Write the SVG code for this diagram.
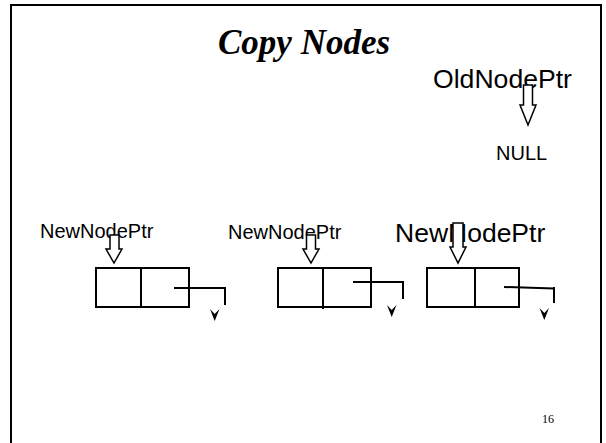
<svg xmlns="http://www.w3.org/2000/svg" width="606" height="443" viewBox="0 0 606 443">
<defs>
<style>
.frame{fill:none;stroke:#000;stroke-width:2}
.box{fill:none;stroke:#000;stroke-width:2}
.lbl{font-family:"Liberation Sans",Arial,sans-serif;fill:#000}
.ptr{fill:#fff;stroke:#000;stroke-width:1.5;stroke-linejoin:miter}
.link{fill:none;stroke:#000;stroke-width:2}
.tip{fill:#000;stroke:none}
</style>
</defs>
<rect x="0" y="0" width="606" height="443" fill="#fff"/>
<g id="frame">
<path class="frame" d="M11,443 V5 H601 V443"/>
</g>
<g id="title">
<text x="218" y="54" font-family="'Liberation Serif','Times New Roman',serif" font-size="35" font-weight="bold" font-style="italic">Copy Nodes</text>
</g>
<g id="old-node-ptr">
<text class="lbl" x="433" y="88" font-size="26.6">OldNodePtr</text>
<polygon class="ptr" points="523.5,85 532.5,85 532.5,105 536,105 528,125 520,105 523.5,105"/>
</g>
<g id="null">
<text class="lbl" x="496" y="160" font-size="20">NULL</text>
</g>
<g id="node1">
<text class="lbl" x="40" y="238" font-size="20">NewNodePtr</text>
<polygon class="ptr" points="110,235 119,235 119,249 122,249 114,263 106,249 110,249"/>
<rect class="box" x="96" y="268" width="93" height="39"/>
<line class="box" x1="141" y1="268" x2="141" y2="307"/>
</g>
<g id="node2">
<text class="lbl" x="228" y="239" font-size="20">NewNodePtr</text>
<polygon class="ptr" points="306.5,235 315.5,235 315.5,249 319,249 311,263 303,249 306.5,249"/>
<rect class="box" x="278" y="268" width="93" height="39"/>
<line class="box" x1="323" y1="268" x2="323" y2="309"/>
</g>
<g id="node3">
<text class="lbl" x="395" y="242" font-size="26.5">NewNodePtr</text>
<polygon class="ptr" points="453,223 463,223 463,247 466,247 458,263 450,247 453,247"/>
<rect class="box" x="427" y="268" width="92" height="39"/>
<line class="box" x1="475" y1="268" x2="475" y2="307"/>
</g>
<g id="connectors">
<polyline class="link" points="174,288 225,288 225,305"/>
<path class="tip" d="M210,309 L214.7,314 L219.5,309 L214.7,321 Z"/>
<polyline class="link" points="353,282 403,282 403,299"/>
<path class="tip" d="M387,305 L391.7,310 L396.5,305 L391.7,317 Z"/>
<polyline class="link" points="504,287 554,288.5"/>
<line class="link" x1="554" y1="287" x2="554" y2="303"/>
<path class="tip" d="M539.5,308 L544.3,313 L549,308 L544.3,320 Z"/>
</g>
<g id="page-number">
<text x="542" y="423" font-family="'Liberation Serif','Times New Roman',serif" font-size="12">16</text>
</g>
</svg>
